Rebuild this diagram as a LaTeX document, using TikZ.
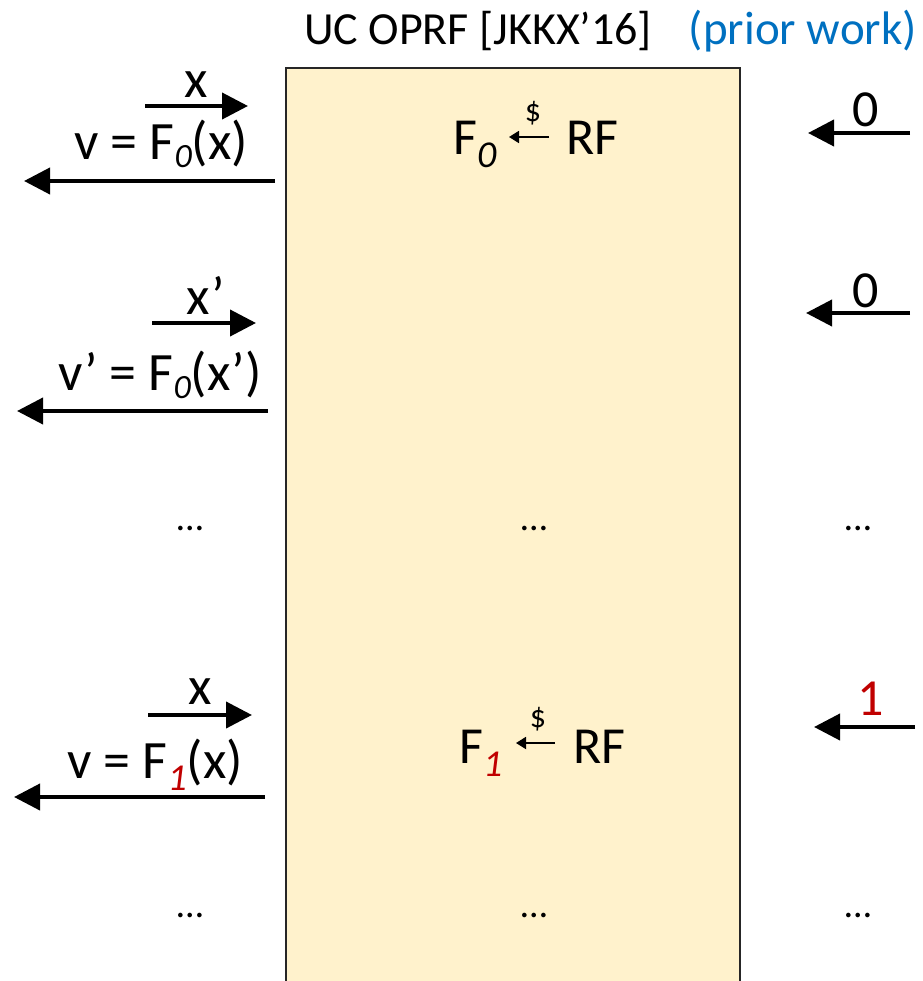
\documentclass[tikz,border=0pt]{standalone}
\usepackage{fontspec}
\setmainfont{Carlito}
\usetikzlibrary{arrows.meta}
\definecolor{boxfill}{HTML}{FFF2CC}
\definecolor{blueprior}{HTML}{0070C0}
\definecolor{redone}{HTML}{C00000}
\newcommand\subz[3]{\raisebox{-#2}{\fontsize{#1}{#1}\selectfont\itshape #3}}
\tikzset{
  lbl/.style={inner sep=0pt, font=\fontsize{54pt}{54pt}\selectfont, anchor=base},
  ctr/.style={inner sep=0pt, font=\fontsize{52pt}{52pt}\selectfont, anchor=base west},
  dig/.style={inner sep=0pt, font=\fontsize{52pt}{52pt}\selectfont, anchor=base},
  dlr/.style={inner sep=0pt, font=\fontsize{32pt}{32pt}\selectfont, anchor=base},
  dts/.style={inner sep=0pt, font=\fontsize{38pt}{38pt}\selectfont, anchor=base},
  big/.style={-{Triangle[length=26pt,width=26pt]}, line width=4pt},
  small/.style={-{Triangle[length=10pt,width=12pt]}, line width=1.8pt},
}
\begin{document}
\begin{tikzpicture}[x=1pt,y=-1pt]
\useasboundingbox (0,0) rectangle (922,981);
% box
\path[fill=boxfill, draw=black!85, line width=1.5pt] (286,68) -- (286,990) -- (740,990) -- (740,68) -- cycle;
% title
\node[inner sep=0pt, anchor=base west, font=\fontsize{46pt}{46pt}\selectfont] (title) at (304,45) {UC OPRF [JKKX’16]};
\node[inner sep=0pt, anchor=base east, font=\fontsize{47pt}{47pt}\selectfont, text=blueprior] (prior) at (917,45) {(prior work)};
% row 1 left
\coordinate (a1s) at (145,106); \coordinate (a1e) at (248,106);
\draw[big] (a1s) -- (a1e);
\node[lbl] (x1) at (196,98) {x};
\coordinate (b1s) at (275,181); \coordinate (b1e) at (24,181);
\draw[big] (b1s) -- (b1e);
\node[lbl] (v1) at (161,160) {v = F\subz{34pt}{8pt}{0}(x)};
% row 2 left
\coordinate (a2s) at (152,323); \coordinate (a2e) at (256,323);
\draw[big] (a2s) -- (a2e);
\node[lbl] (x2) at (206,314) {x’};
\coordinate (b2s) at (268,411); \coordinate (b2e) at (17,411);
\draw[big] (b2s) -- (b2e);
\node[lbl] (v2) at (160,390) {v’ = F\subz{34pt}{8pt}{0}(x’)};
% row 3 left
\coordinate (a3s) at (148,715); \coordinate (a3e) at (252,715);
\draw[big] (a3s) -- (a3e);
\node[lbl] (x3) at (200,704) {x};
\coordinate (b3s) at (265,797); \coordinate (b3e) at (14,797);
\draw[big] (b3s) -- (b3e);
\node[lbl] (v3) at (155,778) {v = F\textcolor{redone}{\subz{38pt}{12pt}{1}}(x)};
% center row 1
\node[ctr] (f0) at (453,155) {F\subz{38pt}{13pt}{0}};
\node[ctr] (rf0) at (566,155) {RF};
\coordinate (c1s) at (549,137); \coordinate (c1e) at (509,137);
\draw[small] (c1s) -- (c1e);
\node[dlr] (d1) at (533,122) {\$};
% center row 3
\node[ctr] (f1) at (459,763) {F\textcolor{redone}{\subz{38pt}{13pt}{1}}};
\node[ctr] (rf1) at (573,763) {RF};
\coordinate (c3s) at (555,743); \coordinate (c3e) at (516,743);
\draw[small] (c3s) -- (c3e);
\node[dlr] (d3) at (538,727) {\$};
% right arrows
\coordinate (r1s) at (910,133); \coordinate (r1e) at (808,133);
\draw[big] (r1s) -- (r1e);
\node[dig] (z1) at (866,127) {0};
\coordinate (r2s) at (910,313); \coordinate (r2e) at (806,313);
\draw[big] (r2s) -- (r2e);
\node[dig] (z2) at (866,307) {0};
\coordinate (r3s) at (915,727); \coordinate (r3e) at (814,727);
\draw[big] (r3s) -- (r3e);
\node[dig, text=redone] (o3) at (871,715) {1};
% dots
\node[dts] (dl1) at (190,530) {…};
\node[dts] (dc1) at (534,530) {…};
\node[dts] (dr1) at (858,530) {…};
\node[dts] (dl2) at (190,917) {…};
\node[dts] (dc2) at (534,917) {…};
\node[dts] (dr2) at (858,917) {…};
\end{tikzpicture}
\end{document}
